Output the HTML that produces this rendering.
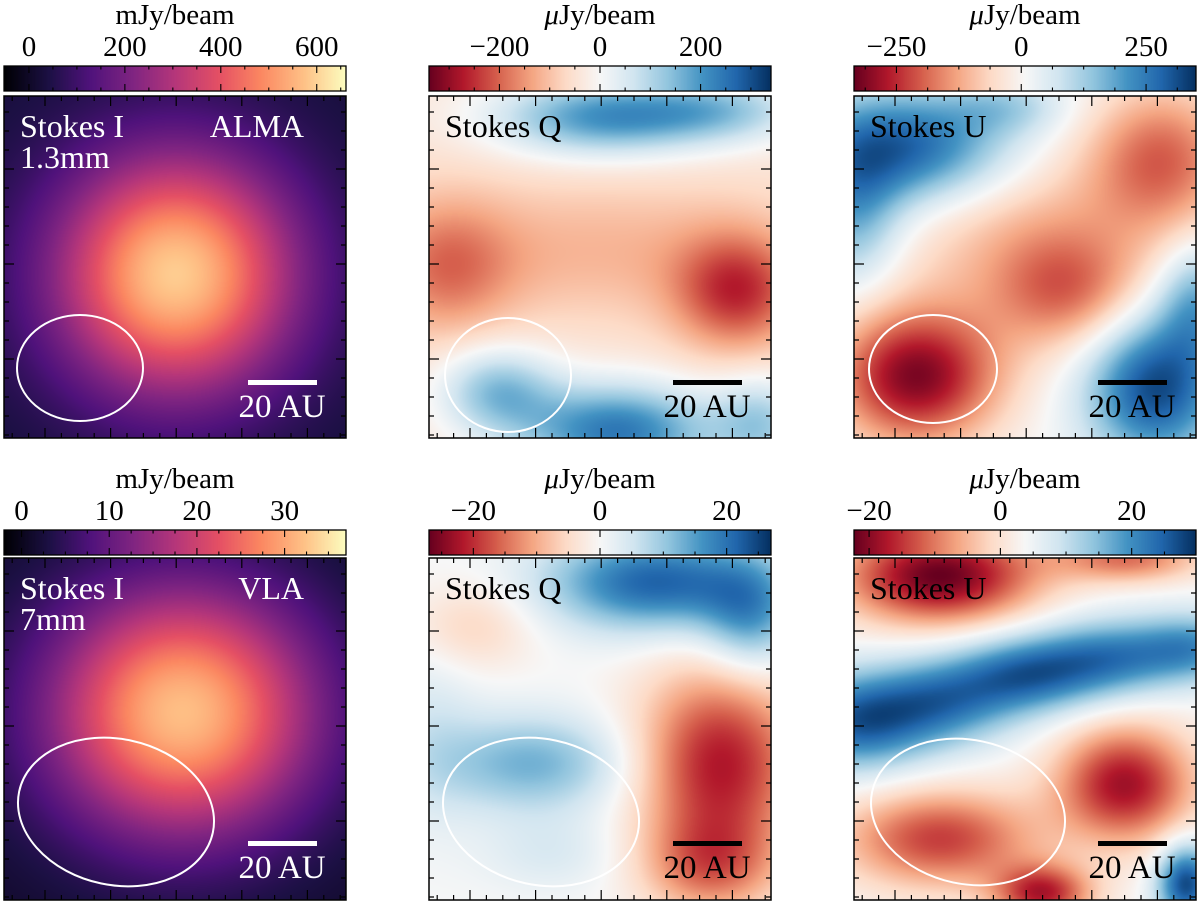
<!DOCTYPE html>
<html><head><meta charset="utf-8"><style>
html,body{margin:0;padding:0;background:#fff;}
#fig{position:relative;width:1200px;height:904px;overflow:hidden;font-family:"Liberation Serif","DejaVu Serif",serif;}
canvas{position:absolute;}
svg{position:absolute;left:0;top:0;}
</style></head><body>
<div id="fig">
<svg id="ov" width="1200" height="904"></svg>
</div>
<script>
// ---- data ----
const panelIds = ["alma-stokes-i","alma-stokes-q","alma-stokes-u","vla-stokes-i","vla-stokes-q","vla-stokes-u"];
const panelLeft = [4,429,854,4,429,854];
const panelTop = [96,96,96,558,558,558];
const cmapNames = ["magma","rdbu","rdbu","magma","rdbu","rdbu"];
const vmins = [-52,-340,-335,-2,-27,-22.3];
const vmaxs = [661,340,350,37,27,29.8];
const bases = [25,-45,10,1,0,3.7];
const tickVals = [[0,200,400,600],[-200,0,200],[-250,0,250],[0,10,20,30],[-20,0,20],[-20,0,20]];
const tickLabels = [["0","200","400","600"],["−200","0","200"],["−250","0","250"],["0","10","20","30"],["−20","0","20"],["−20","0","20"]];
const cbTitles = ["mJy/beam","μJy/beam","μJy/beam","mJy/beam","μJy/beam","μJy/beam"];
// blobs: [cx, cy, sx, sy, amplitude] in normalized panel coords and colorbar units
const blobsAlmaI = [[0.5,0.52,0.25,0.25,565]];
const blobsAlmaQ = [[0.5,0.06,0.22,0.08,240],[0.85,0.04,0.18,0.07,150],[0.05,0.5,0.14,0.14,-130],[0.9,0.57,0.13,0.12,-200],[0.5,0.45,0.35,0.14,-70],[0.55,0.98,0.2,0.1,290],[0.2,0.86,0.12,0.09,180],[0.97,0.96,0.1,0.1,150]];
const blobsAlmaU = [[0.15,0.15,0.22,0.12,290],[0.0,0.35,0.1,0.15,160],[0.45,0.03,0.12,0.06,90],[0.9,0.18,0.15,0.15,-190],[0.62,0.57,0.15,0.12,-150],[0.18,0.82,0.17,0.14,-320],[0.5,0.4,0.3,0.2,-110],[0.88,0.85,0.14,0.15,310],[1.0,0.6,0.08,0.12,160]];
const blobsVlaI = [[0.52,0.45,0.28,0.26,31]];
const blobsVlaQ = [[0.66,0.07,0.22,0.1,22],[0.94,0.17,0.1,0.12,14],[0.12,0.2,0.13,0.09,-6],[0.3,0.6,0.2,0.1,13],[0.85,0.6,0.17,0.2,-22],[0.82,0.9,0.14,0.1,-12],[0.36,0.86,0.15,0.08,4],[0.0,0.5,0.1,0.2,4]];
const blobsVlaU = [[0.25,0.05,0.2,0.1,-26],[0.8,0.0,0.15,0.05,-14],[0.0,0.48,0.15,0.1,20],[0.25,0.42,0.15,0.09,16],[0.5,0.34,0.15,0.08,18],[0.75,0.29,0.15,0.08,16],[1.0,0.26,0.12,0.07,14],[0.79,0.66,0.14,0.12,-22],[0.25,0.82,0.2,0.1,-18],[0.55,0.98,0.1,0.06,-20],[0.97,0.95,0.06,0.08,24]];
const allBlobs = [blobsAlmaI,blobsAlmaQ,blobsAlmaU,blobsVlaI,blobsVlaQ,blobsVlaU];
// beam ellipses [cx, cy, rx, ry, rotation deg] in panel pixel coords
const beams = [[76,272,63,53,0],[79,279,63,57,0],[79,273,64,54,0],[112,254,99,73,12],[112,254,99,73,12],[114,254,98,72,12]];
const stokesText = ["Stokes I","Stokes Q","Stokes U","Stokes I","Stokes Q","Stokes U"];
// ---- colormaps ----
const magma = [[0,0,0,4],[0.13,28,16,68],[0.25,79,18,123],[0.38,129,37,129],[0.5,181,54,122],[0.63,229,80,100],[0.75,251,135,97],[0.88,254,194,135],[1,252,253,191]];
const rdbu = [[0,103,0,31],[0.1,178,24,43],[0.2,214,96,77],[0.3,244,165,130],[0.4,253,219,199],[0.5,247,247,247],[0.6,209,229,240],[0.7,146,197,222],[0.8,67,147,195],[0.9,33,102,172],[1,5,48,97]];
function cmap(name,t){
  const s = name==="magma"?magma:rdbu;
  t=Math.max(0,Math.min(1,t));
  for(let i=1;i<s.length;i++){ if(t<=s[i][0]){const a=s[i-1],b=s[i],f=(t-a[0])/(b[0]-a[0]);return [a[1]+f*(b[1]-a[1]),a[2]+f*(b[2]-a[2]),a[3]+f*(b[3]-a[3])];}}
  return s[s.length-1].slice(1);
}
const fig=document.getElementById('fig');
const ov=document.getElementById('ov');
const NS="http://www.w3.org/2000/svg";
function mk(tag,attrs,parent){const e=document.createElementNS(NS,tag);for(const k in attrs)e.setAttribute(k,attrs[k]);(parent||ov).appendChild(e);return e;}
const S=342;
for(let p=0;p<6;p++){
  const L=panelLeft[p],T=panelTop[p],row=p<3?0:1;
  const c=document.createElement('canvas');c.width=S;c.height=S;c.style.left=L+'px';c.style.top=T+'px';
  
  
  fig.insertBefore(c,ov);
  const ctx=c.getContext('2d');const img=ctx.createImageData(S,S);
  const bl=allBlobs[p];
  for(let j=0;j<S;j++)for(let i=0;i<S;i++){
    const x=i/S,y=j/S;let v=bases[p];
    for(const b of bl){const dx=(x-b[0])/b[2],dy=(y-b[1])/b[3];v+=b[4]*Math.exp(-0.5*(dx*dx+dy*dy));}
    const col=cmap(cmapNames[p],(v-vmins[p])/(vmaxs[p]-vmins[p]));
    const k=(j*S+i)*4;img.data[k]=col[0];img.data[k+1]=col[1];img.data[k+2]=col[2];img.data[k+3]=255;
  }
  ctx.putImageData(img,0,0);
  const g=mk('g',{});
  
  
  let d="";
  for(let k=0;;k++){const x=L+8.2+k*16.4;if(x>L+S-2)break;const len=(k%4===2)?10:5;d+=`M${x},${T}v${len}M${x},${T+S}v${-len}`;}
  for(let k=0;;k++){const y=T+16+k*19;if(y>T+S-2)break;const len=(k%5===3)?10:5;d+=`M${L},${y}h${len}M${L+S},${y}h${-len}`;}
  mk('path',{d:d,stroke:'#000','stroke-width':1.2,fill:'none'},g);
  mk('rect',{x:L,y:T,width:S,height:S,fill:'none',stroke:'#000','stroke-width':1.5},g);
  const bm=beams[p];
  const el=mk('ellipse',{cx:L+bm[0],cy:T+bm[1],rx:bm[2],ry:bm[3],transform:`rotate(${bm[4]} ${L+bm[0]} ${T+bm[1]})`,fill:'none',stroke:'#fff','stroke-width':2},g);
  
  
  const fg=(p%3===0)?'#fff':'#000';
  const sb=mk('rect',{x:L+244,y:T+(row?283:284),width:69,height:5,fill:fg},g);
  
  
  const st=mk('text',{x:L+278,y:T+(row?320:321),'text-anchor':'middle','font-size':33,fill:fg},g);st.textContent="20 AU";
  
  
  const t1=mk('text',{x:L+16,y:T+41,'font-size':32,fill:fg},g);t1.textContent=stokesText[p];
  
  
  if(p%3===0){
    const t2=mk('text',{x:L+16,y:T+72,'font-size':32,fill:'#fff'},g);t2.textContent=row?"7mm":"1.3mm";
    
    
    const t3=mk('text',{x:L+300,y:T+41,'font-size':32,fill:'#fff','text-anchor':'end'},g);t3.textContent=row?"VLA":"ALMA";
    
    
  }
  const cbT=row?530:66,cbH=25;
  const cb=document.createElement('canvas');cb.width=S;cb.height=1;cb.style.left=L+'px';cb.style.top=cbT+'px';cb.style.width=S+'px';cb.style.height=cbH+'px';
  
  
  fig.insertBefore(cb,ov);
  const cc=cb.getContext('2d');const ci=cc.createImageData(S,1);
  for(let i=0;i<S;i++){const col=cmap(cmapNames[p],i/(S-1));ci.data[i*4]=col[0];ci.data[i*4+1]=col[1];ci.data[i*4+2]=col[2];ci.data[i*4+3]=255;}
  cc.putImageData(ci,0,0);
  const cg=mk('g',{});
  
  
  const vx=v=>L+(v-vmins[p])/(vmaxs[p]-vmins[p])*S;
  const tv=tickVals[p];const step=tv[1]-tv[0];const minor=step/4;
  let cd="";
  for(let v=Math.ceil(vmins[p]/minor)*minor;v<=vmaxs[p];v+=minor){
    const x=vx(v);const isMaj=Math.abs(Math.round(v/step)*step-v)<1e-6;const len=isMaj?7:3.5;
    cd+=`M${x},${cbT}v${len}M${x},${cbT+cbH}v${-len}`;
  }
  mk('path',{d:cd,stroke:'#000','stroke-width':1.1,fill:'none'},cg);
  mk('rect',{x:L,y:cbT,width:S,height:cbH,fill:'none',stroke:'#000','stroke-width':1.3},cg);
  tv.forEach((v,i)=>{
    const t=mk('text',{x:vx(v),y:cbT-10,'text-anchor':'middle','font-size':29},cg);t.textContent=tickLabels[p][i];
    
    
  });
  const tt=mk('text',{x:L+S/2,y:cbT-42,'text-anchor':'middle','font-size':29},cg);
  if(cbTitles[p][0]==="μ"){const a=mk('tspan',{'font-style':'italic'},tt);a.textContent="μ";const b=mk('tspan',{},tt);b.textContent="Jy/beam";}
  else tt.textContent=cbTitles[p];
  
  
}
</script>
</body></html>
